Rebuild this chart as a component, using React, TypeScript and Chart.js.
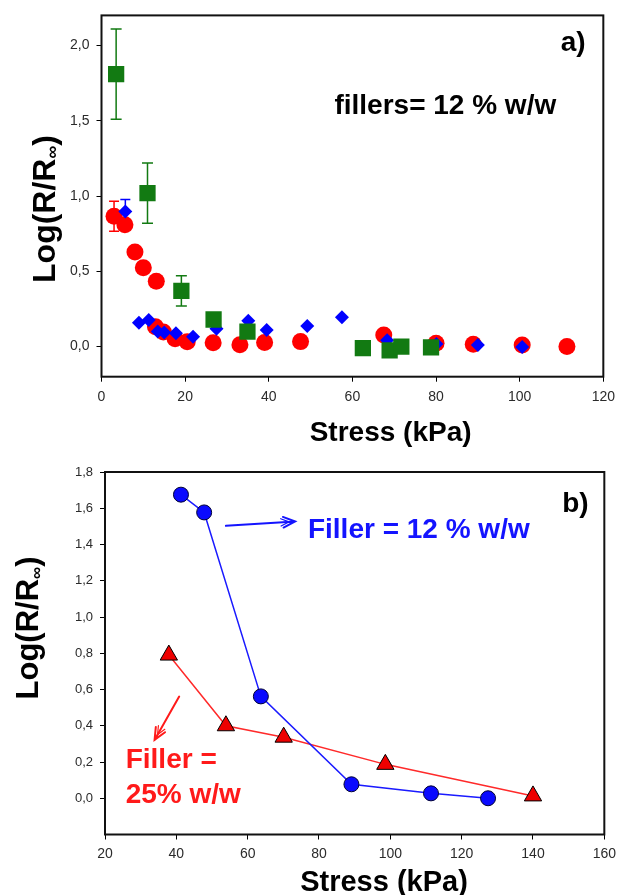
import React, { useEffect, useRef } from 'react';
import { Chart, registerables } from 'chart.js';

Chart.register(...registerables);

const FONT = '"Liberation Sans", Arial, Helvetica, sans-serif';

// ---------- Panel a) data ----------
const aXTicks = [0, 20, 40, 60, 80, 100, 120];
const aYTicks = [0, 0.5, 1.0, 1.5, 2.0];

const greenX = [3.5, 11.0, 19.1, 26.8, 34.9, 62.5, 68.9, 71.7, 78.8];
const greenY = [1.81, 1.02, 0.37, 0.18, 0.10, -0.01, -0.025, 0.0, -0.005];
const greenErr = [0.30, 0.20, 0.10, 0, 0, 0, 0, 0, 0];

const blueX = [5.7, 8.95, 11.3, 13.45, 15.0, 17.8, 21.9, 27.5, 35.1, 39.5, 49.2, 57.5, 68.3, 80.1, 90.0, 100.6];
const blueY = [0.897, 0.159, 0.177, 0.10, 0.093, 0.089, 0.066, 0.118, 0.172, 0.11, 0.137, 0.195, 0.042, 0.018, 0.011, -0.002];
const blueErr = [0.08, 0, 0, 0, 0, 0, 0, 0, 0, 0, 0, 0, 0, 0, 0, 0];

const redX = [3.0, 5.6, 8.0, 10.0, 13.1, 12.9, 14.8, 17.6, 20.5, 26.7, 33.1, 39.0, 47.6, 67.5, 80.0, 88.9, 100.6, 111.3];
const redY = [0.866, 0.81, 0.629, 0.523, 0.434, 0.132, 0.097, 0.052, 0.032, 0.025, 0.012, 0.027, 0.033, 0.077, 0.022, 0.015, 0.011, 0.0];
const redErr = [0.10, 0, 0, 0, 0, 0, 0, 0, 0, 0, 0, 0, 0, 0, 0, 0, 0, 0];

// ---------- Panel b) data ----------
const bXTicks = [20, 40, 60, 80, 100, 120, 140, 160];
const bYTicks = [0, 0.2, 0.4, 0.6, 0.8, 1.0, 1.2, 1.4, 1.6, 1.8];

const filler12X = [41.3, 47.8, 63.7, 89.1, 111.4, 127.4];
const filler12Y = [1.675, 1.577, 0.562, 0.077, 0.027, 0.0];

const filler25X = [37.9, 53.9, 70.1, 98.6, 140.0];
const filler25Y = [0.79, 0.40, 0.337, 0.187, 0.013];

const pts = (xs: number[], ys: number[]) => xs.map((x, i) => ({ x, y: ys[i] }));
const fmtComma = (v: number) => v.toFixed(1).replace('.', ',');

type TextItem = { text: string; x: number; y: number; color: string; size: number; align: CanvasTextAlign };
type Arrow = { x1: number; y1: number; x2: number; y2: number; color: string };
type ErrSet = { xs: number[]; ys: number[]; err: number[]; color: string; cap: number };
type Decor = {
  errors: ErrSet[];
  texts: TextItem[];
  arrows: Arrow[];
  xTitle: { text: string; cx: number; baseline: number; size: number };
  yTitle: { cx: number; cy: number; size: number };
};

function makeDecor(d: Decor) {
  return {
    id: 'decor',
    beforeDatasetsDraw(chart: any) {
      const { ctx, scales } = chart;
      d.errors.forEach((e) => {
        ctx.save();
        ctx.strokeStyle = e.color;
        ctx.lineWidth = 1.5;
        e.xs.forEach((xv, i) => {
          const er = e.err[i];
          if (!er) return;
          const px = scales.x.getPixelForValue(xv);
          const y1 = scales.y.getPixelForValue(e.ys[i] + er);
          const y2 = scales.y.getPixelForValue(e.ys[i] - er);
          ctx.beginPath();
          ctx.moveTo(px, y1);
          ctx.lineTo(px, y2);
          ctx.moveTo(px - e.cap, y1);
          ctx.lineTo(px + e.cap, y1);
          ctx.moveTo(px - e.cap, y2);
          ctx.lineTo(px + e.cap, y2);
          ctx.stroke();
        });
        ctx.restore();
      });
    },
    afterDraw(chart: any) {
      const { ctx, chartArea: a, scales } = chart;
      ctx.save();
      // frame
      ctx.strokeStyle = '#111';
      ctx.lineWidth = 2;
      ctx.strokeRect(a.left, a.top, a.right - a.left, a.bottom - a.top);

      // arrows
      d.arrows.forEach((ar) => {
        const x1 = scales.x.getPixelForValue(ar.x1);
        const y1 = scales.y.getPixelForValue(ar.y1);
        const x2 = scales.x.getPixelForValue(ar.x2);
        const y2 = scales.y.getPixelForValue(ar.y2);
        const ang = Math.atan2(y2 - y1, x2 - x1);
        const hl = 13;
        const ha = 0.42;
        ctx.strokeStyle = ar.color;
        ctx.lineWidth = 2;
        ctx.lineCap = 'round';
        ctx.beginPath();
        ctx.moveTo(x1, y1);
        ctx.lineTo(x2, y2);
        ctx.moveTo(x2 - hl * Math.cos(ang - ha), y2 - hl * Math.sin(ang - ha));
        ctx.lineTo(x2, y2);
        ctx.lineTo(x2 - hl * Math.cos(ang + ha), y2 - hl * Math.sin(ang + ha));
        ctx.stroke();
        const ix = x2 - 6 * Math.cos(ang);
        const iy = y2 - 6 * Math.sin(ang);
        ctx.lineWidth = 1.2;
        ctx.beginPath();
        ctx.moveTo(ix - 9 * Math.cos(ang - ha), iy - 9 * Math.sin(ang - ha));
        ctx.lineTo(ix, iy);
        ctx.lineTo(ix - 9 * Math.cos(ang + ha), iy - 9 * Math.sin(ang + ha));
        ctx.stroke();
      });

      // in-plot texts
      d.texts.forEach((t) => {
        ctx.fillStyle = t.color;
        ctx.font = `bold ${t.size}px ${FONT}`;
        ctx.textAlign = t.align;
        ctx.textBaseline = 'alphabetic';
        ctx.fillText(t.text, scales.x.getPixelForValue(t.x), scales.y.getPixelForValue(t.y));
      });

      // x title
      ctx.fillStyle = '#000';
      ctx.font = `bold ${d.xTitle.size}px ${FONT}`;
      ctx.textAlign = 'center';
      ctx.textBaseline = 'alphabetic';
      ctx.fillText(d.xTitle.text, d.xTitle.cx, d.xTitle.baseline);

      // y title with subscript, rotated
      const s = d.yTitle.size;
      const main = 'Log(R/R';
      const sub = '\u221E';
      const end = ')';
      ctx.translate(d.yTitle.cx, d.yTitle.cy);
      ctx.rotate(-Math.PI / 2);
      ctx.textAlign = 'left';
      ctx.textBaseline = 'alphabetic';
      ctx.font = `bold ${s}px ${FONT}`;
      const wMain = ctx.measureText(main).width;
      const wEnd = ctx.measureText(end).width;
      ctx.font = `bold ${Math.round(s * 0.55)}px ${FONT}`;
      const wSub = ctx.measureText(sub).width;
      const total = wMain + wSub + wEnd;
      let x = -total / 2;
      const base = s * 0.36;
      ctx.font = `bold ${s}px ${FONT}`;
      ctx.fillText(main, x, base);
      x += wMain;
      ctx.font = `bold ${Math.round(s * 0.55)}px ${FONT}`;
      ctx.fillText(sub, x, base + s * 0.12);
      x += wSub;
      ctx.font = `bold ${s}px ${FONT}`;
      ctx.fillText(end, x, base);
      ctx.restore();
    },
  };
}

function axisOpts(min: number, max: number, ticks: number[], fmt: (v: number) => string, fit: (s: any) => void, size: number, pad: number) {
  return {
    type: 'linear' as const,
    min,
    max,
    afterBuildTicks: (s: any) => {
      s.ticks = ticks.map((v) => ({ value: v }));
    },
    afterFit: fit,
    grid: { drawOnChartArea: false, drawTicks: true, tickLength: 5, color: '#000', lineWidth: 1 },
    border: { display: false },
    ticks: {
      autoSkip: false,
      maxRotation: 0,
      padding: pad,
      color: '#2b2b2b',
      font: { family: FONT, size },
      callback: (v: any) => fmt(Number(v)),
    },
  };
}

function PanelA() {
  const ref = useRef<HTMLCanvasElement>(null);
  useEffect(() => {
    const decor = makeDecor({
      errors: [
        { xs: redX, ys: redY, err: redErr, color: '#ff0000', cap: 5 },
        { xs: blueX, ys: blueY, err: blueErr, color: '#0000ff', cap: 5 },
        { xs: greenX, ys: greenY, err: greenErr, color: '#127a12', cap: 5.5 },
      ],
      texts: [
        { text: 'a)', x: 112.8, y: 1.965, color: '#000', size: 28, align: 'center' },
        { text: 'fillers= 12 % w/w', x: 55.7, y: 1.546, color: '#000', size: 28, align: 'left' },
      ],
      arrows: [],
      xTitle: { text: 'Stress (kPa)', cx: 390.6, baseline: 440.5, size: 28 },
      yTitle: { cx: 43, cy: 209, size: 32 },
    });
    const chart = new Chart(ref.current!, {
      type: 'scatter',
      data: {
        datasets: [
          { data: pts(greenX, greenY), pointStyle: 'rect', pointRadius: 11.5, backgroundColor: '#127a12', borderWidth: 0 } as any,
          { data: pts(blueX, blueY), pointStyle: 'rectRot', pointRadius: 7, backgroundColor: '#0000ff', borderWidth: 0 } as any,
          { data: pts(redX, redY), pointStyle: 'circle', pointRadius: 8.5, backgroundColor: '#ff0000', borderWidth: 0 } as any,
        ],
      },
      options: {
        animation: false,
        responsive: false,
        devicePixelRatio: 1,
        layout: { padding: { left: 0, right: 13.7, top: 15, bottom: 0 } },
        plugins: { legend: { display: false }, tooltip: { enabled: false } },
        scales: {
          x: axisOpts(0, 120, aXTicks, (v) => String(v), (s) => { s.height = 73.3; }, 14, 7),
          y: axisOpts(-0.2, 2.2, aYTicks, fmtComma, (s) => { s.width = 101.5; }, 14, 7),
        },
      } as any,
      plugins: [decor as any],
    });
    return () => chart.destroy();
  }, []);
  return <canvas ref={ref} width={622} height={450} style={{ display: 'block', width: 622, height: 450 }} />;
}

function PanelB() {
  const ref = useRef<HTMLCanvasElement>(null);
  useEffect(() => {
    const decor = makeDecor({
      errors: [],
      texts: [
        { text: 'b)', x: 151.9, y: 1.581, color: '#000', size: 28, align: 'center' },
        { text: 'Filler = 12 % w/w', x: 76.9, y: 1.434, color: '#1414ff', size: 28, align: 'left' },
        { text: 'Filler =', x: 25.8, y: 0.166, color: '#ff1a1a', size: 28, align: 'left' },
        { text: '25% w/w', x: 25.8, y: -0.028, color: '#ff1a1a', size: 28, align: 'left' },
      ],
      arrows: [
        { x1: 53.9, y1: 1.503, x2: 73.3, y2: 1.527, color: '#1414ff' },
        { x1: 40.8, y1: 0.561, x2: 33.9, y2: 0.322, color: '#ff1a1a' },
      ],
      xTitle: { text: 'Stress (kPa)', cx: 384, baseline: 441, size: 29 },
      yTitle: { cx: 27, cy: 178, size: 31 },
    });
    const chart = new Chart(ref.current!, {
      type: 'scatter',
      data: {
        datasets: [
          {
            data: pts(filler12X, filler12Y),
            showLine: true,
            borderColor: '#1a1aff',
            borderWidth: 1.5,
            pointStyle: 'circle',
            pointRadius: 7.5,
            pointBackgroundColor: '#0a0aff',
            pointBorderColor: '#000033',
            pointBorderWidth: 1,
          } as any,
          {
            data: pts(filler25X, filler25Y),
            showLine: true,
            borderColor: '#ff2a2a',
            borderWidth: 1.5,
            pointStyle: 'triangle',
            pointRadius: 10,
            pointBackgroundColor: '#ee0000',
            pointBorderColor: '#000',
            pointBorderWidth: 1,
          } as any,
        ],
      },
      options: {
        animation: false,
        responsive: false,
        devicePixelRatio: 1,
        layout: { padding: { left: 0, right: 12.7, top: 22, bottom: 0 } },
        plugins: { legend: { display: false }, tooltip: { enabled: false } },
        scales: {
          x: axisOpts(20, 160, bXTicks, (v) => String(v), (s) => { s.height = 60.5; }, 14, 6),
          y: axisOpts(-0.2, 1.8, bYTicks, fmtComma, (s) => { s.width = 105; }, 13, 7),
        },
      } as any,
      plugins: [decor as any],
    });
    return () => chart.destroy();
  }, []);
  return <canvas ref={ref} width={622} height={445} style={{ display: 'block', width: 622, height: 445 }} />;
}

export default function App() {
  return (
    <div style={{ position: 'absolute', left: 0, top: 0, width: 622, height: 895, background: '#fff', overflow: 'hidden' }}>
      <PanelA />
      <PanelB />
    </div>
  );
}
